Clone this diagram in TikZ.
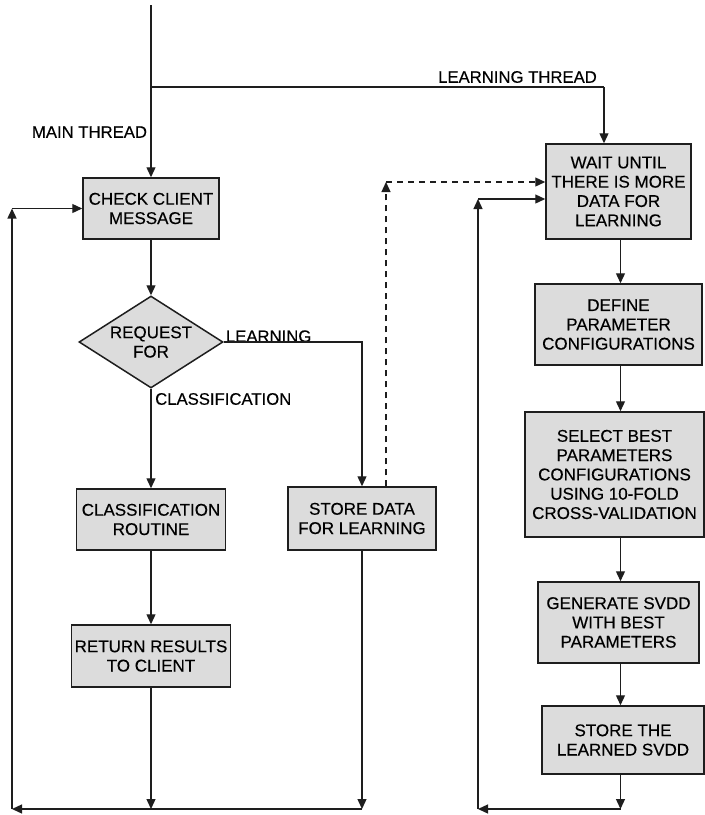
\documentclass[tikz,border=0pt]{standalone}
\usepackage{fontspec}
\setmainfont{Liberation Sans}[FakeBold=0.35]
\usetikzlibrary{arrows.meta,shapes.geometric}
\definecolor{boxc}{RGB}{220,220,220}
\definecolor{linec}{RGB}{30,30,30}
\begin{document}
\begin{tikzpicture}[x=1pt,y=-1pt,
  font=\fontsize{17}{19.3}\selectfont,
  box/.style={draw=linec, fill=boxc, line width=1.5pt, align=center, inner sep=0pt},
  arr/.style={-{Triangle[length=10pt,width=9pt]}, line width=1.3pt, draw=linec},
  dash line/.style={dash pattern=on 6pt off 5pt},
  lbl/.style={inner sep=0pt, font=\fontsize{16.7}{18}\selectfont}]
\useasboundingbox (0,0) rectangle (705,815);

% nodes
\node[box, minimum width=136pt, minimum height=61pt] (check) at (151,208.5) {CHECK CLIENT\\MESSAGE};
\node[box, diamond, aspect=1.565, minimum width=144pt, minimum height=92pt] (diam) at (151,342) {REQUEST\\FOR};
\node[box, minimum width=149pt, minimum height=61pt] (cls) at (151,519.5) {CLASSIFICATION\\ROUTINE};
\node[box, minimum width=159pt, minimum height=62pt] (ret) at (151,656) {RETURN RESULTS\\TO CLIENT};
\node[box, minimum width=148pt, minimum height=63pt] (store) at (362,518.5) {STORE DATA\\FOR LEARNING};
\node[box, minimum width=145pt, minimum height=95pt] (wait) at (618.5,191.5) {WAIT UNTIL\\THERE IS MORE\\DATA FOR\\LEARNING};
\node[box, minimum width=167pt, minimum height=81pt] (def) at (618.5,324.5) {DEFINE\\PARAMETER\\CONFIGURATIONS};
\node[box, minimum width=179pt, minimum height=125pt] (sel) at (614.5,474.5) {SELECT BEST\\PARAMETERS\\CONFIGURATIONS\\USING 10-FOLD\\CROSS-VALIDATION};
\node[box, minimum width=161pt, minimum height=81pt] (gen) at (618.5,622.5) {GENERATE SVDD\\WITH BEST\\PARAMETERS};
\node[box, minimum width=162pt, minimum height=68pt] (st) at (623,740) {STORE THE\\LEARNED SVDD};

% labels
\node[lbl] (lthread) at (517.5,77) {LEARNING THREAD};
\node[lbl] (mthread) at (89.5,132) {MAIN THREAD};
\node[lbl, anchor=base west] (llearn) at ([xshift=2pt]diam.east) {LEARNING};
\node[lbl, anchor=west] (lclass) at (155,399) {CLASSIFICATION};

% coordinates
\coordinate (top) at (151,5);
\coordinate (br) at (151,87);
\coordinate (lt) at (604,87);
\coordinate (bl) at (12,809);
\coordinate (bs) at (362,809);
\coordinate (tl) at (12,208.5);
\coordinate (d1) at (386,182);
\coordinate (ax) at (620.5,0);
\coordinate (rb) at (620.5,809);
\coordinate (rl) at (478,809);
\coordinate (rt) at (478,199);

% main thread
\draw[arr] (top) -- (check);
\draw[line width=1.3pt, draw=linec] (br) -- (lt);
\draw[arr] (lt) -- (lt |- wait.north);
\draw[arr] (check) -- (diam);
\draw[arr] (diam.east) -| (store.north);
\draw[arr] (diam) -- (cls);
\draw[arr] (cls) -- (ret);
\draw[arr] (ret.south) -- (ret.south |- bl);
\draw[arr] (store.south) -- (bs);
\draw[arr] (bs) -- (bl);
\draw[arr] (bl) -- (tl);
\draw[arr] (tl) -- (check.west);

% dashed link
\draw[arr, dash line] (store.north -| d1) -- (d1);
\draw[arr, dash line] (d1) -- (d1 -| wait.west);

% learning thread
\draw[arr] (wait.south -| ax) -- (def.north -| ax);
\draw[arr] (def.south -| ax) -- (sel.north -| ax);
\draw[arr] (sel.south -| ax) -- (gen.north -| ax);
\draw[arr] (gen.south -| ax) -- (st.north -| ax);
\draw[arr] (st.south -| ax) -- (rb);
\draw[arr] (rb) -- (rl);
\draw[arr] (rl) -- (rt);
\draw[arr] (rt) -- (rt -| wait.west);
\end{tikzpicture}
\end{document}
